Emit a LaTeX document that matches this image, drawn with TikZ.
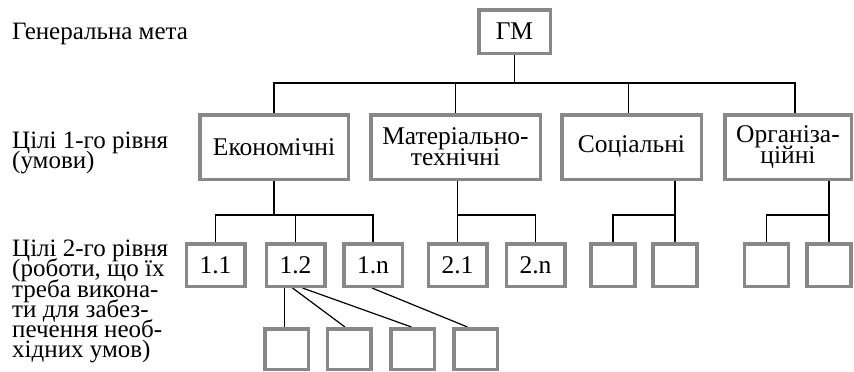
\documentclass[tikz,border=0pt]{standalone}
\usepackage{fontspec}
\setmainfont{Liberation Serif}
\usetikzlibrary{calc,backgrounds}
\definecolor{boxgray}{RGB}{136,136,136}
\newcommand{\mytightlines}{\lineskiplimit=-40pt\relax}
\begin{document}
\begin{tikzpicture}[x=1pt,y=-1pt,
  box/.style={draw=boxgray, line width=3.5pt, fill=white, inner sep=0pt, align=center,
    font=\fontsize{25.5}{21}\selectfont\mytightlines},
  lbl/.style={inner sep=0pt, align=left, font=\fontsize{25}{20.2}\selectfont\mytightlines, anchor=north west},
  conn/.style={line width=1.2pt, black}]
\useasboundingbox (0,0) rectangle (854,372);
% labels
\node[lbl] (t0) at (12,23) {Генеральна мета};
\node[lbl] (t1) at (12,132) {Цілі 1-го рівня\\(умови)};
\node[lbl] (t2) at (12,240) {Цілі 2-го рівня\\(роботи, що їх\\треба викона-\\ти для забез-\\печення необ-\\хідних умов)};
% top
\node[box, minimum width=71.5pt, minimum height=43.5pt] (gm) at (514.5,31.5) {ГМ};
% level 1
\node[box, minimum width=148.5pt, minimum height=64.5pt] (eco) at (274,147) {Економічні};
\node[box, minimum width=169.5pt, minimum height=64.5pt] (mat) at (455.5,147) {Матеріально-\\технічні};
\node[box, minimum width=139.5pt, minimum height=64.5pt] (soc) at (631.5,147) {Соціальні};
\node[box, minimum width=126.5pt, minimum height=64.5pt] (org) at (788,147) {Організа-\\ційні};
% level 2
\tikzset{lab2/.style={box, minimum width=58.5pt, minimum height=42.5pt},
         emp2/.style={box, minimum width=44pt, minimum height=42.5pt},
         emp3/.style={box, minimum width=43.5pt, minimum height=40.5pt}}
\node[lab2] (n11) at (215.5,265) {1.1};
\node[lab2] (n12) at (295.5,265) {1.2};
\node[lab2] (n1n) at (373,265) {1.n};
\node[lab2] (n21) at (457.5,265) {2.1};
\node[lab2] (n2n) at (535.5,265) {2.n};
\node[emp2] (s1) at (613,265) {};
\node[emp2] (s2) at (675,265) {};
\node[emp2] (o1) at (766.5,265) {};
\node[emp2] (o2) at (829,265) {};
% level 3
\node[emp3] (la) at (286.5,349) {};
\node[emp3] (lb) at (349,349) {};
\node[emp3] (lc) at (412.5,349) {};
\node[emp3] (ld) at (475.5,349) {};
\coordinate (j0) at (513,83);
\coordinate (j1) at (0,215);
\coordinate (orgtop) at ($(org.north)+(7,0)$);
\begin{scope}[on background layer]
\draw[conn] (gm.south) -- (gm.south |- j0);
\draw[conn] (eco.north) -- (eco.north |- j0) -- (orgtop |- j0) -- (orgtop);
\draw[conn] (mat.north) -- (mat.north |- j0);
\draw[conn] ($(soc.north)+(-3,0)$) -- ($(soc.north |- j0)+(-3,0)$);
\draw[conn] (eco.south) -- (eco.south |- j1);
\draw[conn] (n11.north) -- (n11.north |- j1) -- (n1n.north |- j1) -- (n1n.north);
\draw[conn] (n12.north) -- (n12.north |- j1);
\draw[conn] (mat.south -| n21.north) -- (n21.north);
\draw[conn] (n21.north |- j1) -- (n2n.north |- j1) -- (n2n.north);
\draw[conn] (soc.south -| s2.north) -- (s2.north);
\draw[conn] (s1.north) -- (s1.north |- j1) -- (s2.north |- j1);
\draw[conn] (org.south -| o2.north) -- (o2.north);
\draw[conn] (o1.north) -- (o1.north |- j1) -- (o2.north |- j1);
\draw[conn] ($(n12.south -| la.north)+(-2,0)$) -- ($(la.north)+(-2,0)$);
\draw[conn] ($(n12.south)+(-3,0)$) -- ($(lb.north)+(-4,0)$);
\draw[conn] ($(n12.south)+(7,0)$) -- ($(lc.north)+(-1,0)$);
\draw[conn] ($(n1n.south)+(-1,0)$) -- ($(ld.north)+(-8,0)$);
\end{scope}
\end{tikzpicture}
\end{document}
